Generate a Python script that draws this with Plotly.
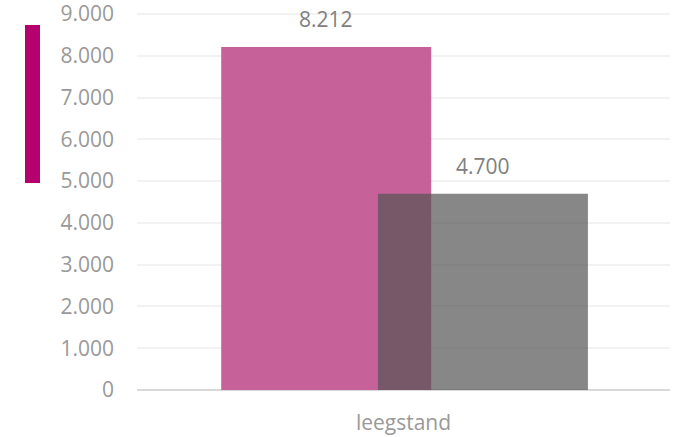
import plotly.graph_objects as go

# Data
categories = ["leegstand"]
series_a = [8212]
series_b = [4700]
y_ticks = [0, 1000, 2000, 3000, 4000, 5000, 6000, 7000, 8000, 9000]

FONT = "Open Sans"
W, H = 674, 437
M_L, M_R, M_T, M_B = 137, 4, 10, 47
plot_w = W - M_L - M_R
plot_h = H - M_T - M_B
Y_TOP = 9000 * plot_h / (plot_h - 4)

bar_w = 0.394
off_a = -0.342
off_b = -0.048

fig = go.Figure()
fig.add_trace(go.Bar(
    x=categories, y=series_a, width=bar_w, offset=off_a,
    marker=dict(color="#C76199", line=dict(width=0)),
    hoverinfo="skip", showlegend=False,
))
fig.add_trace(go.Bar(
    x=categories, y=series_b, width=bar_w, offset=off_b,
    marker=dict(color="rgba(84,84,84,0.70)", line=dict(width=0)),
    hoverinfo="skip", showlegend=False,
))

# Value labels above each bar
for vals, off in ((series_a, off_a), (series_b, off_b)):
    for i, v in enumerate(vals):
        fig.add_annotation(
            x=i, y=v, xref="x", yref="y",
            xshift=(off + bar_w / 2) * plot_w,
            yshift=12, yanchor="bottom", showarrow=False,
            text=f"{v:,}".replace(",", "."),
            font=dict(family=FONT, size=21, color="#808080"),
        )

# Accent bar at the left
fig.add_shape(
    type="rect", xref="paper", yref="paper",
    x0=(25 - M_L) / plot_w, x1=(40 - M_L) / plot_w,
    y0=(H - M_B - 183) / plot_h, y1=(H - M_B - 25) / plot_h,
    fillcolor="#B5006E", line=dict(width=0), layer="above",
)

fig.update_layout(
    width=W, height=H,
    margin=dict(l=M_L, r=M_R, t=M_T, b=M_B, autoexpand=False),
    barmode="overlay",
    separators=",.",
    plot_bgcolor="white", paper_bgcolor="white",
    font=dict(family=FONT, size=21, color="#999999"),
    xaxis=dict(
        type="category", range=[-0.5, 0.5], automargin=False,
        showgrid=False, showline=False, zeroline=False,
        ticks="", tickfont=dict(family=FONT, size=21, color="#999999"),
        ticklabelstandoff=18,
    ),
    yaxis=dict(
        range=[0, Y_TOP], tickvals=y_ticks, tickformat=",d", automargin=False,
        showgrid=True, gridcolor="#F2F2F2", gridwidth=1.5,
        zeroline=True, zerolinecolor="#D9D9D9", zerolinewidth=2,
        showline=False, ticks="", ticklabeloverflow="allow",
        tickfont=dict(family=FONT, size=21, color="#999999"),
        ticklabelstandoff=22,
    ),
)

fig.write_html("out.html")
